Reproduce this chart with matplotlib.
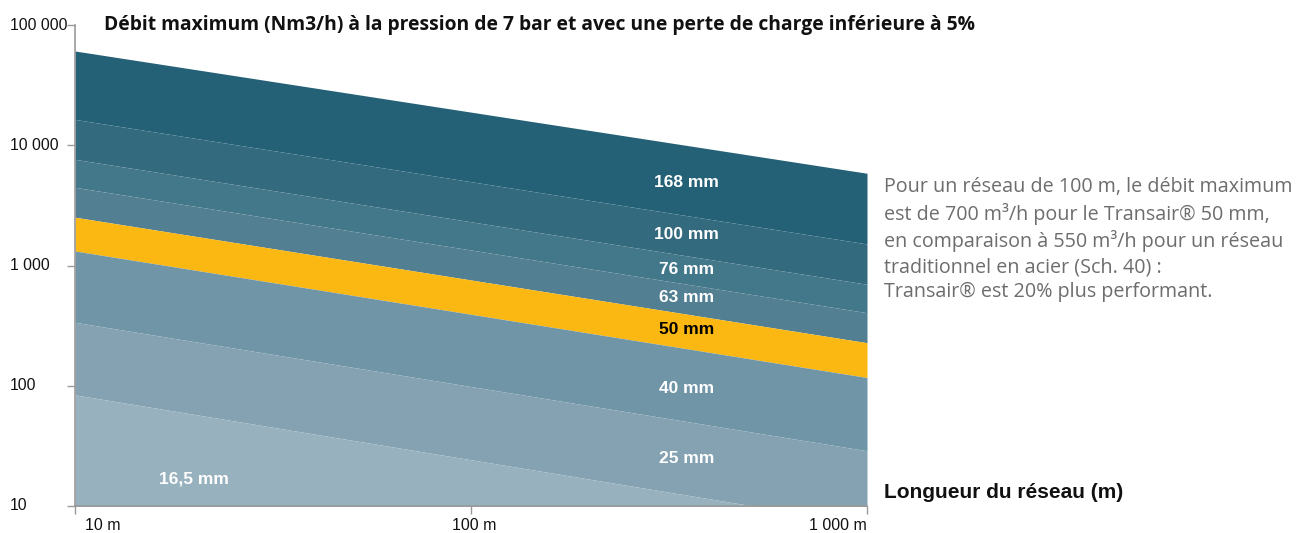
import numpy as np
import matplotlib
matplotlib.use("Agg")
import matplotlib.pyplot as plt

# Network length (m) at the two ends of the chart
lengths = [10, 1000]

# Diameters from largest to smallest, with max flow (Nm3/h) at 10 m and 1000 m
diameters = ["168 mm", "100 mm", "76 mm", "63 mm", "50 mm", "40 mm", "25 mm", "16,5 mm"]
flow_10m = [60800, 16400, 7640, 4470, 2520, 1320, 337, 84]
flow_1000m = [5850, 1510, 698, 405, 228, 117, 28.8, 7.0]

band_colors = ["#246176", "#336a7e", "#43778a", "#537f92", "#fbb813", "#7095a7", "#84a2b1", "#98b1be"]
label_colors = ["white", "white", "white", "white", "black", "white", "white", "white"]
# label anchor positions (length in m, flow in Nm3/h)
label_x = [350, 350, 350, 350, 350, 350, 350, 20]
label_y = [4940, 1800, 935, 547, 291, 94, 25, 16.8]

y_ticks = [10, 100, 1000, 10000, 100000]
y_tick_labels = ["10", "100", "1 000", "10 000", "100 000"]
x_ticks = [10, 100, 1000]
x_tick_labels = ["10 m", "100 m", "1 000 m"]

title = "Débit maximum (Nm3/h) à la pression de 7 bar et avec une perte de charge inférieure à 5%"
note = ("Pour un réseau de 100 m, le débit maximum\n"
        "est de 700 m³/h pour le Transair® 50 mm,\n"
        "en comparaison à 550 m³/h pour un réseau\n"
        "traditionnel en acier (Sch. 40) :\n"
        "Transair® est 20% plus performant.")

plt.rcParams["font.family"] = ["Liberation Sans", "DejaVu Sans"]

fig = plt.figure(figsize=(13.03, 5.33), dpi=100)
ax = fig.add_axes([75 / 1303, 1 - 506 / 533, 792 / 1303, 481 / 533])
ax.set_xscale("log")
ax.set_yscale("log")
ax.set_xlim(10, 1000)
ax.set_ylim(10, 100000)

x = np.array(lengths, dtype=float)
xs = np.logspace(np.log10(x[0]), np.log10(x[1]), 50)
t = (np.log10(xs) - np.log10(x[0])) / (np.log10(x[1]) - np.log10(x[0]))


def log_line(a, b):
    # straight line between two points in log-log space
    return 10 ** (np.log10(a) + t * (np.log10(b) - np.log10(a)))


for i, name in enumerate(diameters):
    top_s = log_line(flow_10m[i], flow_1000m[i])
    if i + 1 < len(diameters):
        bot_s = log_line(flow_10m[i + 1], flow_1000m[i + 1])
    else:
        bot_s = np.ones_like(xs)
    ax.fill_between(xs, bot_s, top_s, color=band_colors[i], linewidth=0, zorder=1)
    ax.text(label_x[i], label_y[i], name, color=label_colors[i], fontsize=12.5,
            fontweight="bold", ha="center", va="center", zorder=3)

for side in ["top", "right"]:
    ax.spines[side].set_visible(False)
for side in ["left", "bottom"]:
    ax.spines[side].set_color("#999999")
    ax.spines[side].set_linewidth(1.2)
    ax.spines[side].set_zorder(4)

ax.set_yticks(y_ticks)
ax.set_yticklabels([])
ax.set_yticks([], minor=True)
ax.set_xticks(x_ticks)
ax.set_xticklabels([])
ax.set_xticks([], minor=True)
ax.tick_params(axis="both", which="major", color="#999999", length=6, width=1)

ytrans = ax.get_yaxis_transform()
for v, lab in zip(y_ticks, y_tick_labels):
    ax.text(-65 / 792, v, lab, transform=ytrans, ha="left", va="center",
            fontsize=11.3, color="#111111", clip_on=False)

xtrans = ax.get_xaxis_transform()
x_ha = ["left", "center", "right"]
x_pos = [10 * 10 ** (10 / 396), 100 * 10 ** (3 / 396), 1000]
for v, lab, ha in zip(x_pos, x_tick_labels, x_ha):
    ax.text(v, -19 / 481, lab, transform=xtrans, ha=ha, va="center",
            fontsize=11.5, color="#111111", clip_on=False)

fig.text(104 / 1303, 1 - 25 / 533, title, fontsize=13.9, fontweight="bold",
         family=["Open Sans", "DejaVu Sans"], ha="left", va="center", color="#111111")

fig.text(884 / 1303, 1 - 177 / 533, note, fontsize=14.2, color="#6d6d6d",
         family=["Open Sans", "DejaVu Sans"], ha="left", va="top",
         linespacing=1.33)

fig.text(884 / 1303, 1 - 492 / 533, "Longueur du réseau (m)", fontsize=15,
         fontweight="bold", ha="left", va="center", color="#111111")

fig.savefig("out.png", dpi=100)
